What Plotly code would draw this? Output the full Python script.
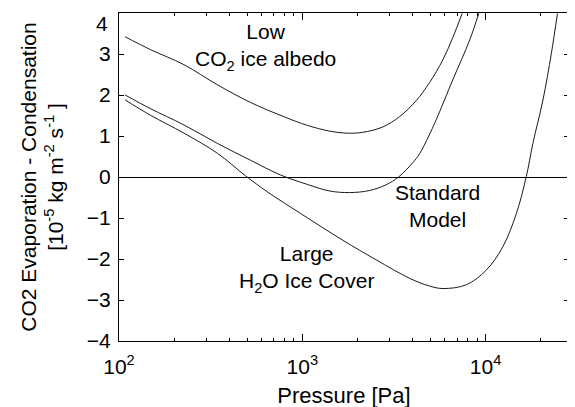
import plotly.graph_objects as go

# Pressure [Pa] and CO2 evaporation - condensation [1e-5 kg m^-2 s^-1]
low_p = [108, 148, 226, 344, 521, 794, 1064, 1406, 1734, 2138, 2748, 3388, 4178, 4943, 5848, 6622, 7447]
low_v = [3.42, 3.11, 2.74, 2.25, 1.82, 1.47, 1.26, 1.12, 1.07, 1.09, 1.22, 1.47, 1.86, 2.30, 2.86, 3.40, 3.99]

std_p = [108, 148, 226, 344, 521, 760, 1064, 1406, 1807, 2323, 2864, 3350, 4009, 4355, 4898, 5370, 6622, 8185, 9183]
std_v = [2.0, 1.67, 1.27, 0.82, 0.41, 0.05, -0.18, -0.34, -0.38, -0.33, -0.19, 0.0, 0.35, 0.56, 1.0, 1.39, 2.37, 3.34, 3.99]

large_p = [108, 148, 226, 344, 490, 644, 979, 1660, 2529, 3846, 4943, 5848, 7834, 10093, 12417, 14723, 16672, 18113, 20558, 22856, 24660]
large_v = [1.88, 1.51, 1.07, 0.58, 0.03, -0.36, -0.89, -1.54, -2.02, -2.47, -2.66, -2.72, -2.63, -2.27, -1.70, -0.89, 0.01, 0.82, 1.88, 3.02, 3.99]

x_tickvals = [100, 1000, 10000]
x_ticktext = ["10<sup>2</sup>", "10<sup>3</sup>", "10<sup>4</sup>"]
x_minor = [200, 300, 400, 500, 600, 700, 800, 900, 2000, 3000, 4000, 5000, 6000, 7000, 8000, 9000, 20000]
y_ticks = [-4, -3, -2, -1, 0, 1, 2, 3, 4]
y_ticktext = ["\u22124", "\u22123", "\u22122", "\u22121", "0", "1", "2", "3", ""]
y_top_label = "4"

FONT = "Liberation Sans, Arial, Helvetica, sans-serif"

fig = go.Figure()
for p, v in [(low_p, low_v), (std_p, std_v), (large_p, large_v)]:
    fig.add_trace(go.Scatter(x=p, y=v, mode="lines", line=dict(color="#1a1a1a", width=1, shape="spline", smoothing=1.0),
                             showlegend=False, hoverinfo="skip"))

fig.add_annotation(x=2.797, y=3.18, xref="x", yref="y", showarrow=False,
                   text="Low<br>CO<sub>2</sub> ice albedo", font=dict(family=FONT, size=21, color="black"))
fig.add_annotation(x=3.738, y=-0.70, xref="x", yref="y", showarrow=False,
                   text="Standard<br>Model", font=dict(family=FONT, size=21, color="black"))
fig.add_annotation(x=3.022, y=-2.24, xref="x", yref="y", showarrow=False,
                   text="Large<br>H<sub>2</sub>O Ice Cover", font=dict(family=FONT, size=21, color="black"))
# top y tick label, drawn just below the top edge as in the original
fig.add_annotation(x=0, y=y_ticks[-1], xref="paper", yref="y", xanchor="right", yanchor="middle",
                   xshift=-9, yshift=-10, showarrow=False, text=y_top_label,
                   font=dict(family=FONT, size=21, color="black"))

fig.add_shape(type="line", xref="paper", yref="y", x0=0.995, x1=1.008, y0=0, y1=0,
              line=dict(color="red", width=1))

# the page body has an 8px default margin, so margins are reduced accordingly
fig.update_layout(
    width=575, height=407,
    margin=dict(l=111, r=14, t=5, b=74),
    paper_bgcolor="white", plot_bgcolor="white",
    font=dict(family=FONT, size=21, color="black"),
    xaxis=dict(type="log", range=[2.0, 4.455], tickmode="array", tickvals=x_tickvals, ticktext=x_ticktext,
               tickfont=dict(size=21), ticklabelstandoff=7,
               ticks="inside", ticklen=7, tickcolor="black", showline=True, linecolor="black", linewidth=1,
               mirror="ticks", showgrid=False, zeroline=False,
               minor=dict(tickmode="array", tickvals=x_minor, ticks="inside", ticklen=3, tickcolor="black", showgrid=False),
               title=dict(text="Pressure [Pa]", standoff=10, font=dict(size=22)), automargin=False),
    yaxis=dict(range=[-4, 4], tickmode="array", tickvals=y_ticks, ticktext=y_ticktext,
               ticks="inside", ticklen=5, tickcolor="black",
               tickfont=dict(size=21),
               showline=True, linecolor="black", linewidth=1, mirror="ticks", showgrid=False,
               zeroline=True, zerolinecolor="black", zerolinewidth=1, ticklabelstandoff=3,
               title=dict(text="CO2 Evaporation - Condensation<br>[10<sup>-5</sup> kg m<sup>-2</sup> s<sup>-1</sup> ]",
                          standoff=17, font=dict(size=21)),
               automargin=False),
)

fig.write_html("out.html")
